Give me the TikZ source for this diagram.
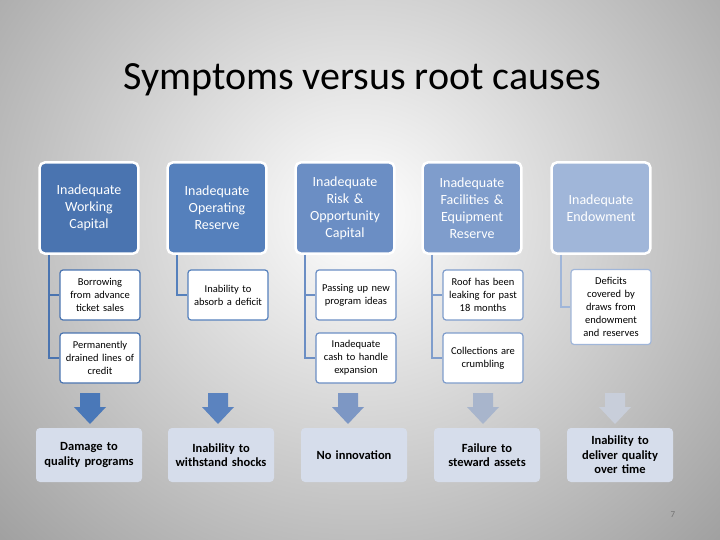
\documentclass[tikz,border=0pt]{standalone}
\usepackage{fontspec}
\setmainfont{Carlito}
\usetikzlibrary{positioning}
\definecolor{hdA}{HTML}{4A74B0}
\definecolor{hdB}{HTML}{5580BC}
\definecolor{hdC}{HTML}{6B8EC4}
\definecolor{hdD}{HTML}{7F9DCC}
\definecolor{hdE}{HTML}{A0B6D9}
\definecolor{arA}{HTML}{4A78B8}
\definecolor{arB}{HTML}{5B83BF}
\definecolor{arC}{HTML}{7D97C4}
\definecolor{arD}{HTML}{A8B5CC}
\definecolor{arE}{HTML}{C8CEDA}
\definecolor{outbox}{HTML}{D6DDEB}
\tikzset{
  header/.style={draw=white,line width=2.5pt,rounded corners=5pt,minimum width=97pt,
    minimum height=91pt,text width=92pt,align=center,text=white,font=\fontsize{14}{17}\selectfont},
  cause/.style={draw=#1,line width=1.2pt,fill=white,rounded corners=3pt,minimum width=80pt,
    minimum height=50pt,text width=78pt,align=center,inner sep=1pt,font=\fontsize{10.5}{13}\selectfont},
  result/.style={fill=outbox,rounded corners=4pt,minimum width=106pt,minimum height=54pt,
    text width=104pt,inner sep=1pt,align=center,font=\bfseries\fontsize{12.5}{14.5}\selectfont},
}
% down arrow at a named coordinate
\newcommand\downarr[2]{\fill[#2] ([xshift=-10pt]#1) -- ++(20,0) -- ++(0,14) -- ++(6,0)
  -- ++(-16,17) -- ++(-16,-17) -- ++(6,0) -- cycle;}
\begin{document}
\begin{tikzpicture}[x=1pt,y=-1pt]
\useasboundingbox (0,0) rectangle (720,540);
\begin{scope}
\clip (0,0) rectangle (720,540);
\shade[inner color=white,outer color=black!40] (-180,-290) rectangle (900,720);
\end{scope}
\node (title) at (362,80) {\fontsize{40}{42}\selectfont Symptoms versus root causes};

% headers
\node[header,fill=hdA] (h1) at (89,208) {Inadequate\\Working\\Capital};
\node[header,fill=hdB] (h2) at (217,208) {Inadequate\\Operating\\Reserve};
\node[header,fill=hdC] (h3) at (345,208) {Inadequate\\Risk \&\\Opportunity\\Capital};
\node[header,fill=hdD] (h4) at (472,208) {Inadequate\\Facilities \&\\Equipment\\Reserve};
\node[header,fill=hdE] (h5) at (601,208) {Inadequate\\Endowment};

% causes
\node[cause=hdA] (c1a) at (100,295) {Borrowing\\from advance\\ticket sales};
\node[cause=hdA] (c1b) at (100,358) {Permanently\\drained lines of\\credit};
\node[cause=hdB] (c2a) at (228,295) {Inability to\\absorb a deficit};
\node[cause=hdC] (c3a) at (356,295) {Passing up new\\program ideas};
\node[cause=hdC] (c3b) at (356,358) {Inadequate\\cash to handle\\expansion};
\node[cause=hdD] (c4a) at (483,295) {Roof has been\\leaking for past\\18 months};
\node[cause=hdD] (c4b) at (483,358) {Collections are\\crumbling};
\node[cause=hdE,minimum height=75pt] (c5a) at (611,307) {Deficits\\covered by\\draws from\\endowment\\and reserves};

% connectors
\foreach \h/\c/\col in {h1/c1a/hdA,h1/c1b/hdA,h2/c2a/hdB,h3/c3a/hdC,h3/c3b/hdC,h4/c4a/hdD,h4/c4b/hdD,h5/c5a/hdE}
  \draw[\col,line width=2pt] ([xshift=-40pt]\h.south) |- (\c.west);

% arrows
\coordinate (a1) at (90,393);
\coordinate (a2) at (218,393);
\coordinate (a3) at (348,393);
\coordinate (a4) at (483,393);
\coordinate (a5) at (615,393);
\downarr{a1}{arA}
\downarr{a2}{arB}
\downarr{a3}{arC}
\downarr{a4}{arD}
\downarr{a5}{arE}

% results
\node[result] (r1) at (89,455) {Damage to\\quality programs};
\node[result] (r2) at (221,455) {Inability to\\withstand shocks};
\node[result] (r3) at (354,455) {No innovation};
\node[result] (r4) at (487,455) {Failure to\\steward assets};
\node[result] (r5) at (620,455) {Inability to\\deliver quality\\over time};

\node[text=black!55,font=\small] (pg) at (673,515) {7};
\end{tikzpicture}
\end{document}
